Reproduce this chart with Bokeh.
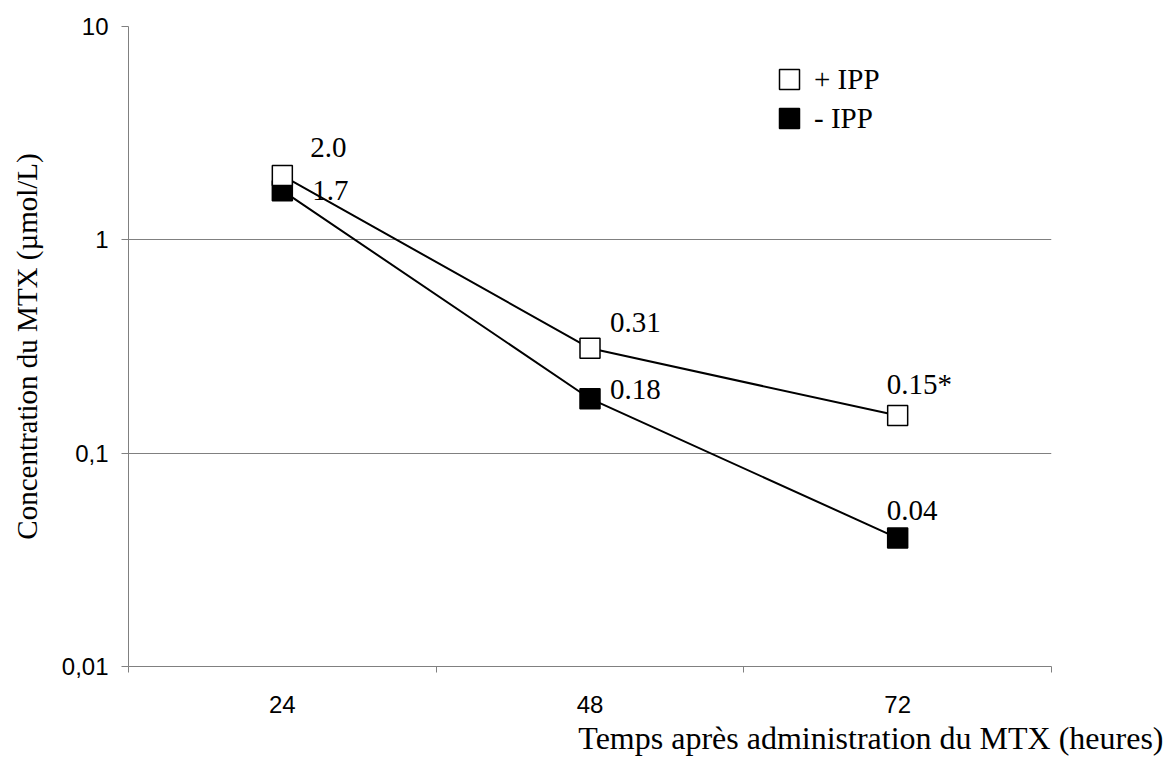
import numpy as np
from bokeh.plotting import figure
from bokeh.models import (ColumnDataSource, FixedTicker, LabelSet, Legend, LegendItem, Title)
from bokeh.embed import file_html
from bokeh.resources import INLINE

# ---------------- data ----------------
times = ["24", "48", "72"]
with_ipp = [2.0, 0.31, 0.15]
without_ipp = [1.7, 0.18, 0.04]
labels_with = ["2.0", "0.31", "0.15*"]
labels_without = ["1.7", "0.18", "0.04"]
series_names = ["+ IPP", "- IPP"]
y_ticks = [0.01, 0.1, 1, 10]
y_tick_labels = ["0,01", "0,1", "1", "10"]
x_title = "Temps après administration du MTX (heures)"
y_title = "Concentration du MTX (µmol/L)"

# ---------------- style ----------------
SERIF = "Liberation Serif"
SANS = "Liberation Sans"
GRID = "#808080"
off_with_x = [28, 20, -11]
off_with_y = [19, 16, 22]
off_without_x = [30, 20, -11]
off_without_y = [-9, 0, 18]

xc = np.arange(len(times)) + 0.5  # category centres

W, H = 1168, 758
p = figure(width=W, height=H, y_axis_type="log",
           x_range=(0, len(times)), y_range=(y_ticks[0], y_ticks[-1]),
           output_backend="svg", toolbar_location=None,
           min_border_left=128, min_border_right=W - 1051,
           min_border_top=26, min_border_bottom=H - 666)
p.outline_line_color = None
p.background_fill_color = "white"
p.border_fill_color = "white"

# x axis: labels at centres, tick marks at category borders
p.xaxis.ticker = FixedTicker(ticks=list(xc), minor_ticks=list(range(len(times) + 1)))
p.xaxis.major_label_overrides = {float(x): t for x, t in zip(xc, times)}
p.xaxis.major_tick_out = 0
p.xaxis.major_tick_in = 0
p.xaxis.minor_tick_out = 6
p.xaxis.minor_tick_in = 0
p.xaxis.minor_tick_line_color = GRID
p.xaxis.axis_line_color = GRID
p.xaxis.major_label_text_font = SANS
p.xaxis.major_label_text_font_size = "24px"
p.xaxis.major_label_text_color = "black"
p.xaxis.major_label_standoff = 23
p.xgrid.grid_line_color = None

# y axis
p.yaxis.ticker = FixedTicker(ticks=y_ticks, minor_ticks=[])
p.yaxis.major_label_overrides = {float(v): t for v, t in zip(y_ticks, y_tick_labels)}
p.yaxis.major_tick_out = 7
p.yaxis.major_tick_in = 0
p.yaxis.minor_tick_line_color = None
p.yaxis.major_tick_line_color = GRID
p.yaxis.axis_line_color = GRID
p.yaxis.major_label_text_font = SANS
p.yaxis.major_label_text_font_size = "24px"
p.yaxis.major_label_text_color = "black"
p.yaxis.major_label_standoff = 13
p.yaxis.axis_label = y_title
p.yaxis.axis_label_text_font = SERIF
p.yaxis.axis_label_text_font_size = "29px"
p.yaxis.axis_label_text_font_style = "normal"
p.yaxis.axis_label_text_color = "black"
p.yaxis.axis_label_standoff = 16
p.ygrid.grid_line_color = GRID
p.ygrid.grid_line_width = 1

# series (- IPP first so + IPP markers sit on top)
src_without = ColumnDataSource(dict(x=xc, y=without_ipp, t=labels_without,
                                    dx=off_without_x, dy=off_without_y))
src_with = ColumnDataSource(dict(x=xc, y=with_ipp, t=labels_with,
                                 dx=off_with_x, dy=off_with_y))

p.line("x", "y", source=src_without, line_color="black", line_width=2)
r_without = p.scatter("x", "y", source=src_without, marker="square", size=20,
                      fill_color="black", line_color="black", line_width=1.5)
p.line("x", "y", source=src_with, line_color="black", line_width=2)
r_with = p.scatter("x", "y", source=src_with, marker="square", size=20,
                   fill_color="white", line_color="black", line_width=1.5)

for src in (src_with, src_without):
    p.add_layout(LabelSet(x="x", y="y", text="t", source=src,
                          x_offset="dx", y_offset="dy",
                          text_font=SERIF, text_font_size="29px",
                          text_color="black", text_align="left",
                          text_baseline="alphabetic"))

# one legend per entry, so the row pitch matches the reference
for name, rend, loc_y in ((series_names[0], r_with, 562), (series_names[1], r_without, 523)):
    p.add_layout(Legend(items=[LegendItem(label=name, renderers=[rend])],
                        location=(636, loc_y), glyph_width=50, glyph_height=50,
                        label_standoff=0, padding=10, spacing=0,
                        label_text_font=SERIF, label_text_font_size="29px",
                        label_text_color="black",
                        border_line_color=None, background_fill_alpha=0))

p.add_layout(Title(text=x_title, align="right", offset=-112, standoff=4,
                   text_font=SERIF, text_font_size="32px", text_font_style="normal",
                   text_color="black"), "below")

open("out.html", "w").write(file_html(p, INLINE))
